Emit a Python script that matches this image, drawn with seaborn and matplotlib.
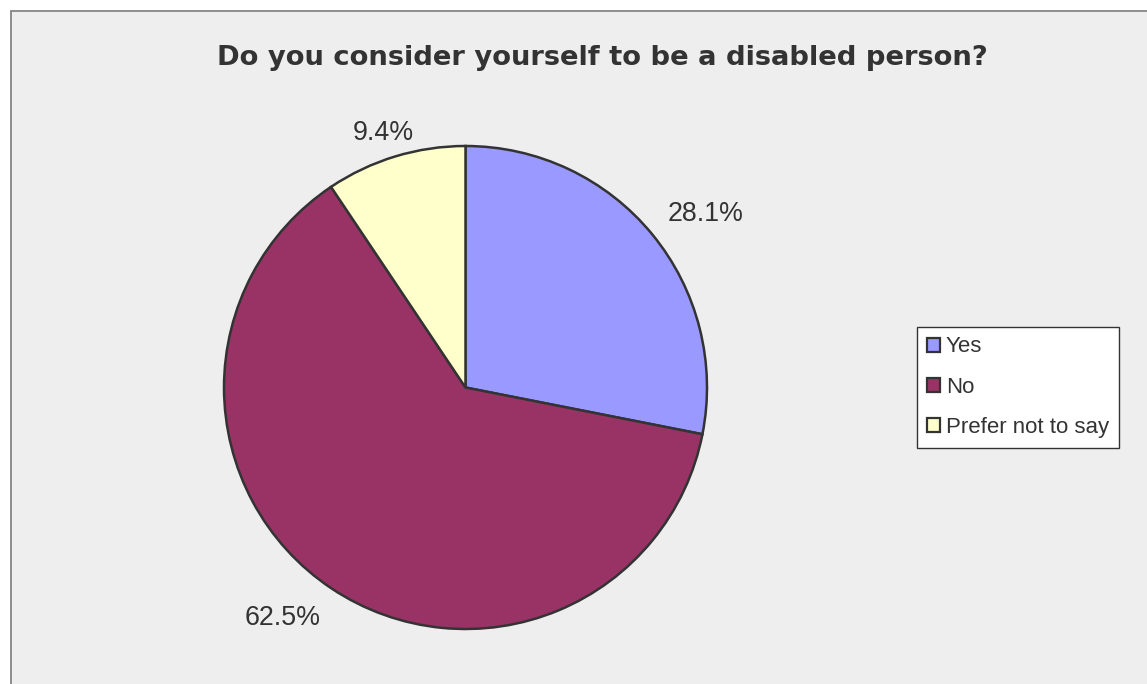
import numpy as np
import matplotlib
matplotlib.use("Agg")
import matplotlib.pyplot as plt
from matplotlib.patches import Rectangle
import seaborn as sns

# Survey responses (share of respondents, %)
categories = ["Yes", "No", "Prefer not to say"]
shares = [28.1, 62.5, 9.4]
colors = ["#9999FF", "#993366", "#FFFFCC"]
title = "Do you consider yourself to be a disabled person?"

sns.set_theme(style="white")
plt.rcParams["font.family"] = ["Liberation Sans", "DejaVu Sans"]

W, H = 1147, 684
fig = plt.figure(figsize=(W / 100, H / 100), dpi=100, facecolor="white")

# Grey chart-area panel with a thin border on its top and left
fig.patches.append(Rectangle((11 / W, -0.01), 1.02, 1 - 11 / H + 0.01,
                             transform=fig.transFigure, facecolor="#EEEEEE",
                             edgecolor="#858585", linewidth=1.3, zorder=-5))

# Pie axes: centre (465.5, 387.5) px, radius 241.5 px
cx, cy, r = 465.5, 387.5, 241.5
ax = fig.add_axes([(cx - r) / W, (H - cy - r) / H, 2 * r / W, 2 * r / H])
ax.set_facecolor("none")
ax.set_zorder(2)
wedges, _ = ax.pie(shares, colors=colors, startangle=90, counterclock=False,
                   radius=1.0,
                   wedgeprops=dict(edgecolor="#333333", linewidth=1.8))
ax.set_xlim(-1, 1)
ax.set_ylim(-1, 1)
ax.set_aspect("equal")
ax.axis("off")

# Percentage labels just outside each slice
gap = 1.083
for w, val in zip(wedges, shares):
    mid = np.deg2rad((w.theta1 + w.theta2) / 2)
    c, s = np.cos(mid), np.sin(mid)
    ha = "left" if c > 0.35 else ("right" if c < -0.35 else "center")
    va = "baseline" if s > 0 else "top"
    x, y = gap * c, gap * s
    if ha == "center":
        x, y = x - 0.025, y - 0.012
    ax.text(x, y, f"{val:.1f}%", ha=ha, va=va, fontsize=19.3,
            color="#333333", clip_on=False)

fig.text(602 / W, 1 - 58 / H, title, ha="center", va="center",
         fontsize=19.7, fontweight="bold", color="#333333",
         family=["DejaVu Sans"], zorder=3)

leg = fig.legend(wedges, categories, loc="upper left",
                 bbox_to_anchor=(917 / W, 1 - 326.5 / H),
                 frameon=True, fancybox=False, framealpha=1.0, fontsize=16,
                 handlelength=0.6, handleheight=0.6, handletextpad=0.25,
                 labelspacing=0.87, borderpad=0.45, borderaxespad=0)
leg.set_zorder(4)
leg.get_frame().set_facecolor("white")
leg.get_frame().set_edgecolor("#333333")
leg.get_frame().set_linewidth(1.0)
for t in leg.get_texts():
    t.set_color("#333333")
for h in leg.legend_handles:
    h.set_edgecolor("#333333")
    h.set_linewidth(1.6)

fig.savefig("out.png", dpi=100, facecolor="white")
